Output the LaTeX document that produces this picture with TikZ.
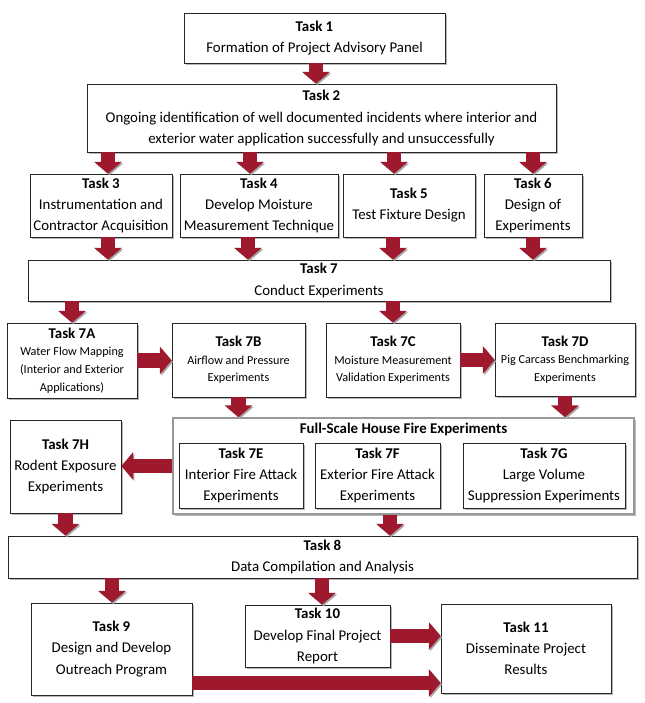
\documentclass[tikz,border=0pt]{standalone}
\usepackage{fontspec}
\setmainfont{Carlito}
\usetikzlibrary{arrows.meta,shadows}
\definecolor{arrowred}{RGB}{158,24,46}
\newcommand{\px}{0.03cm}
\newcommand{\tasktitle}[1]{{\fontsize{12.7}{18}\selectfont\bfseries #1}}
\tikzset{task/.style={draw=black!85, line width=0.6pt, fill=white, align=center, inner sep=1pt, font=\fontsize{12.7}{18}\selectfont, drop shadow={shadow xshift=2pt, shadow yshift=-2pt, opacity=0.4, fill=black!70}},
  boxsize/.style 2 args={minimum width=#1*\px, minimum height=#2*\px},
  smalltext/.style={font=\fontsize{10.4}{15}\selectfont},
  group/.style={draw=black!40, line width=1.4pt, fill=white, drop shadow={shadow xshift=2pt, shadow yshift=-2pt, opacity=0.4, fill=black!70}},
  flow/.style={line width=12pt, draw=arrowred, -{Triangle[length=10pt, width=23pt]}, preaction={draw=black!35, transform canvas={shift={(1.2pt,-1.2pt)}}}}}

\begin{document}
\begin{tikzpicture}[x=0.03cm, y=-0.03cm]
  \useasboundingbox (0,0) rectangle (644,703);

  % planning tasks
  \node [task, boxsize={261}{50}] (t1) at (314.5,38) {\textbf{Task 1}\\Formation of Project Advisory Panel};
  \node [task, boxsize={469}{68}] (t2) at (321.5,118) {\textbf{Task 2}\\Ongoing identification of well documented incidents where interior and\\exterior water application successfully and unsuccessfully};
  \node [task, boxsize={142}{63}] (t3) at (101,205.5) {\textbf{Task 3}\\Instrumentation and\\Contractor Acquisition};
  \node [task, boxsize={158}{63}] (t4) at (259,205.5) {\textbf{Task 4}\\Develop Moisture\\Measurement Technique};
  \node [task, boxsize={132}{63}] (t5) at (409,205.5) {\textbf{Task 5}\\Test Fixture Design};
  \node [task, boxsize={98}{63}] (t6) at (533,205.5) {\textbf{Task 6}\\Design of\\Experiments};
  \node [task, boxsize={582}{41}] (t7) at (319,280.5) {\textbf{Task 7}\\Conduct Experiments};

  % experiment tasks
  \node [task, smalltext, boxsize={130}{75}] (t7a) at (72,360.5) {\tasktitle{Task 7A}\\Water Flow Mapping\\(Interior and Exterior\\Applications)};
  \node [task, smalltext, boxsize={133}{74}] (t7b) at (238.5,360) {\tasktitle{Task 7B}\\Airflow and Pressure\\Experiments};
  \node [task, smalltext, boxsize={134}{74}] (t7c) at (393,360) {\tasktitle{Task 7C}\\Moisture Measurement\\Validation Experiments};
  \node [task, smalltext, boxsize={140}{73}] (t7d) at (565,359.5) {\tasktitle{Task 7D}\\Pig Carcass Benchmarking\\Experiments};

  \node [group, boxsize={461}{96}] (full) at (403.5,466) {};
  \node [font=\fontsize{12.7}{18}\selectfont\bfseries] (fulltitle) at (403.5,429) {Full-Scale House Fire Experiments};
  \node [task, boxsize={124}{65}] (t7e) at (241,475.5) {\textbf{Task 7E}\\Interior Fire Attack\\Experiments};
  \node [task, boxsize={125}{65}] (t7f) at (377.5,475.5) {\textbf{Task 7F}\\Exterior Fire Attack\\Experiments};
  \node [task, boxsize={162}{65}] (t7g) at (544,475.5) {\textbf{Task 7G}\\Large Volume\\Suppression Experiments};
  \node [task, boxsize={111}{93}] (t7h) at (65.5,466.5) {\textbf{Task 7H}\\Rodent Exposure\\Experiments};

  % reporting tasks
  \node [task, boxsize={629}{42}] (t8) at (322.5,557) {\textbf{Task 8}\\Data Compilation and Analysis};
  \node [task, boxsize={161}{92}] (t9) at (111.5,649) {\textbf{Task 9}\\Design and Develop\\Outreach Program};
  \node [task, boxsize={145}{62}] (t10) at (317.5,636) {\textbf{Task 10}\\Develop Final Project\\Report};
  \node [task, boxsize={170}{89}] (t11) at (526,648.5) {\textbf{Task 11}\\Disseminate Project\\Results};

  % arrows
  \draw [flow] (316,0 |- t1.south) -- (316,0 |- t2.north);
  \foreach \ax/\dst in {108/t3, 250/t4, 394/t5, 533/t6}
    \draw [flow] (\ax,0 |- t2.south) -- (\ax,0 |- \dst.north);
  \foreach \ax/\src in {108/t3, 248/t4, 393/t5, 533/t6}
    \draw [flow] (\ax,0 |- \src.south) -- (\ax,0 |- t7.north);
  \draw [flow] (t7a.north |- t7.south) -- (t7a.north);
  \draw [flow] (t7c.north |- t7.south) -- (t7c.north);
  \draw [flow] (t7a.east) -- (t7a.east -| t7b.west);
  \draw [flow] (t7c.east) -- (t7c.east -| t7d.west);
  \draw [flow] (t7b.south) -- (t7b.south |- full.north);
  \draw [flow] (t7d.south) -- (t7d.south |- full.north);
  \draw [flow] (full.west) -- (full.west -| t7h.east);
  \draw [flow] (t7h.south) -- (t7h.south |- t8.north);
  \draw [flow] (390,0 |- full.south) -- (390,0 |- t8.north);
  \draw [flow] (112,0 |- t8.south) -- (112,0 |- t9.north);
  \draw [flow] (322,0 |- t8.south) -- (322,0 |- t10.north);
  \draw [flow] (t10.east) -- (t10.east -| t11.west);
  \draw [flow] (t9.east |- 0,683) -- (t11.west |- 0,683);
\end{tikzpicture}
\end{document}
